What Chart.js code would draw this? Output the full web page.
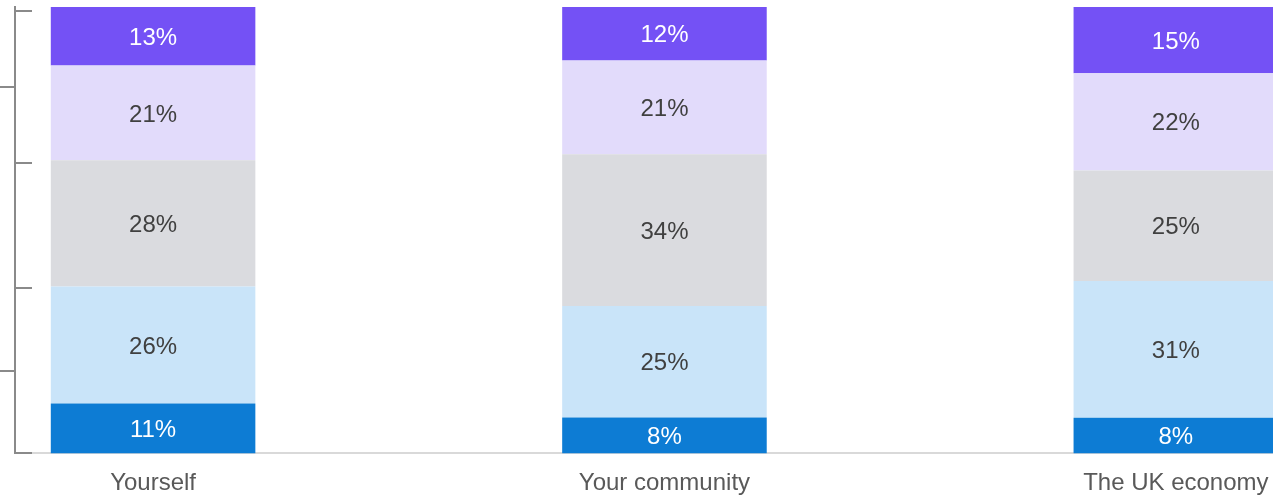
<!DOCTYPE html>
<html>
<head>
<meta charset="utf-8">
<title>Outlook by area</title>
<script src="https://cdn.jsdelivr.net/npm/chart.js@4/dist/chart.umd.min.js"></script>
<style>
  html, body { margin: 0; padding: 0; background: #ffffff; }
  #wrap { width: 1273px; height: 495px; position: relative; }
</style>
</head>
<body>
<div id="wrap"><canvas id="outlookChart"></canvas></div>
<script>
// Categories along the x axis
var categories = ['Yourself', 'Your community', 'The UK economy'];

// Share of answers per category (%), stacked bottom to top
var muchWorse      = [11, 8, 8];
var slightlyWorse  = [26, 25, 31];
var noChange       = [28, 34, 25];
var slightlyBetter = [21, 21, 22];
var muchBetter     = [13, 12, 15];

// Bracket beside the bars: group edges and group mid points (%)
var bracketEdges = [0, 37, 65, 99];
var bracketMids = [18.5, 82];

var seriesColors = ['#0d7cd4', '#c9e4f9', '#dadbdf', '#e2dbfb', '#7451f5'];
var labelColors = ['#ffffff', '#404040', '#404040', '#404040', '#ffffff'];
var seriesNames = ['Much worse', 'Slightly worse', 'No change', 'Slightly better', 'Much better'];
var seriesValues = [muchWorse, slightlyWorse, noChange, slightlyBetter, muchBetter];

// x range so the first column sits close to the bracket
var X_MIN = -0.27;
var X_MAX = 2.19;

// each column is drawn as a 100% stack of its answers
var totals = categories.map(function(c, i) {
    return seriesValues.reduce(function(s, arr) { return s + arr[i]; }, 0);
});

var datasets = seriesValues.map(function(values, k) {
    return {
        label: seriesNames[k],
        data: values.map(function(v, i) { return { x: i, y: v / totals[i] * 100 }; }),
        raw: values,
        backgroundColor: seriesColors[k],
        labelColor: labelColors[k],
        borderWidth: 0,
        categoryPercentage: 0.8,
        barPercentage: 0.5
    };
});

// Writes the percentage in the middle of each segment
var segmentLabels = {
    id: 'segmentLabels',
    afterDatasetsDraw: function(chart) {
        var ctx = chart.ctx;
        ctx.save();
        ctx.font = '24px "Liberation Sans", Arial, sans-serif';
        ctx.textAlign = 'center';
        ctx.textBaseline = 'middle';
        chart.data.datasets.forEach(function(ds, k) {
            var meta = chart.getDatasetMeta(k);
            meta.data.forEach(function(bar, i) {
                var p = bar.getProps(['x', 'y', 'base'], true);
                ctx.fillStyle = ds.labelColor;
                ctx.fillText(ds.raw[i] + '%', p.x, (p.y + p.base) / 2 + 2);
            });
        });
        ctx.restore();
    }
};

// Inner arms of the bracket, pointing from the y axis towards the bars
var bracketArms = {
    id: 'bracketArms',
    afterDraw: function(chart) {
        var y = chart.scales.y;
        var ctx = chart.ctx;
        var x0 = y.right;
        ctx.save();
        ctx.strokeStyle = '#8a8a8a';
        ctx.lineWidth = 2;
        bracketEdges.forEach(function(v) {
            var py = Math.round(y.getPixelForValue(v));
            ctx.beginPath();
            ctx.moveTo(x0 - 1, py);
            ctx.lineTo(x0 + 17, py);
            ctx.stroke();
        });
        ctx.restore();
    }
};

new Chart(document.getElementById('outlookChart'), {
    type: 'bar',
    data: { datasets: datasets },
    options: {
        responsive: true,
        maintainAspectRatio: false,
        animation: false,
        layout: { padding: { top: 7, right: 0, bottom: -3, left: 0 } },
        datasets: { bar: { clip: false } },
        plugins: {
            legend: { display: false },
            tooltip: { enabled: false }
        },
        scales: {
            x: {
                type: 'linear',
                stacked: true,
                offset: false,
                min: X_MIN,
                max: X_MAX,
                afterBuildTicks: function(scale) {
                    scale.ticks = categories.map(function(c, i) { return { value: i }; });
                },
                // invisible tick marks give the gap under the axis
                grid: { display: true, drawOnChartArea: false, drawTicks: true, tickLength: 16, color: 'rgba(0,0,0,0)', offset: false },
                border: { display: true, color: '#d9d9d9', width: 2 },
                ticks: {
                    autoSkip: false,
                    maxRotation: 0,
                    padding: 0,
                    color: '#595959',
                    font: { family: '"Liberation Sans", Arial, sans-serif', size: 24 },
                    callback: function(value) { return categories[value]; }
                }
            },
            y: {
                position: 'left',
                stacked: true,
                min: 0,
                max: 100,
                afterBuildTicks: function(scale) {
                    scale.ticks = bracketMids.map(function(v) { return { value: v }; });
                },
                grid: { drawOnChartArea: false, drawTicks: true, tickLength: 15, color: '#8a8a8a', lineWidth: 2 },
                border: { display: true, color: '#8a8a8a', width: 2 },
                ticks: { display: false }
            }
        }
    },
    plugins: [segmentLabels, bracketArms]
});
</script>
</body>
</html>
